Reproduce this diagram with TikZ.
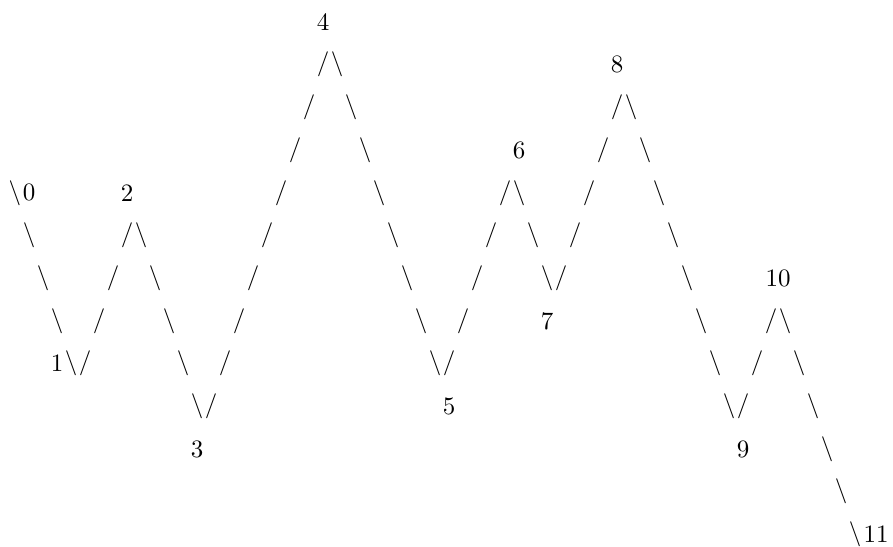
\documentclass[tikz,border=0pt]{standalone}
\usepackage{fontspec}
\newfontfamily\lmten{lmroman10-regular}[Extension=.otf]
\begin{document}
\begin{tikzpicture}[x=1pt,y=-1pt,
  ch/.style={inner sep=0pt, font=\lmten\fontsize{25}{25}\selectfont}]
\useasboundingbox (0,0) rectangle (893,546);
% forward slashes
\foreach \r/\c in {1/22, 2/21, 2/43, 3/20, 3/42, 4/19, 4/35, 4/41,
  5/8, 5/18, 5/34, 5/40, 6/7, 6/17, 6/33, 6/39, 7/6, 7/16, 7/32, 7/54,
  8/5, 8/15, 8/31, 8/53, 9/14, 9/52}
  \node[ch] (f\r-\c) at ({15+14*\c},{22+42.7*\r}) {/};
% backslashes
\foreach \r/\c in {1/23, 2/24, 2/44, 3/25, 3/45, 4/0, 4/26, 4/36, 4/46,
  5/1, 5/9, 5/27, 5/37, 5/47, 6/2, 6/10, 6/28, 6/38, 6/48,
  7/3, 7/11, 7/29, 7/49, 7/55, 8/4, 8/12, 8/30, 8/50, 8/56,
  9/13, 9/51, 9/57, 10/58, 11/59, 12/60}
  \node[ch] (b\r-\c) at ({15+14*\c},{22+42.7*\r}) {\textbackslash};
% numbers
\foreach \r/\c/\t [count=\i] in {0/22/4, 1/43/8, 3/36/6, 4/1/0, 4/8/2,
  6/54.5/10, 7/38/7, 8/3/1, 9/31/5, 10/13/3, 10/52/9, 12/61.5/11}
  \node[ch] (lab\i) at ({15+14*\c},{22+42.7*\r}) {\t};
\end{tikzpicture}
\end{document}
